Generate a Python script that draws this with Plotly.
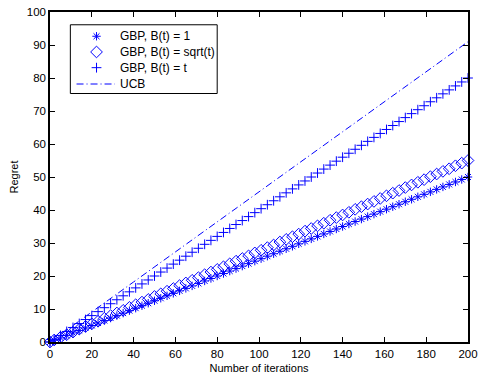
import plotly.graph_objects as go

# Iterations at which the regret was recorded
iterations = [0, 2, 5, 8, 11, 14, 17, 20, 23, 26, 29, 32, 35, 38, 41, 44, 47, 50,
              53, 56, 59, 62, 65, 68, 71, 74, 77, 80, 83, 86, 89, 92, 95, 98, 101,
              104, 107, 110, 113, 116, 119, 122, 125, 128, 131, 134, 137, 140, 143,
              146, 149, 152, 155, 158, 161, 164, 167, 170, 173, 176, 179, 182, 185,
              188, 191, 194, 197, 200]

regret_b1 = [0, 0.5, 1.25, 2.0, 2.75, 3.5, 4.25, 5.0, 5.75, 6.5, 7.25, 8.0, 8.75,
             9.5, 10.25, 11.0, 11.75, 12.5, 13.25, 14.0, 14.75, 15.5, 16.25, 17.0,
             17.75, 18.5, 19.25, 20.0, 20.75, 21.5, 22.25, 23.0, 23.75, 24.5, 25.25,
             26.0, 26.75, 27.5, 28.25, 29.0, 29.75, 30.5, 31.25, 32.0, 32.75, 33.5,
             34.25, 35.0, 35.75, 36.5, 37.25, 38.0, 38.75, 39.5, 40.25, 41.0, 41.75,
             42.5, 43.25, 44.0, 44.75, 45.5, 46.25, 47.0, 47.75, 48.5, 49.25, 50.0]

regret_bsqrt = [0, 0.6, 1.4, 2.2, 3.0, 3.9, 4.7, 5.5, 6.3, 7.2, 8.0, 8.8, 9.6, 10.5,
                11.3, 12.1, 12.9, 13.8, 14.6, 15.4, 16.2, 17.1, 17.9, 18.7, 19.5,
                20.4, 21.2, 22.0, 22.8, 23.7, 24.5, 25.3, 26.1, 27.0, 27.8, 28.6,
                29.4, 30.3, 31.1, 31.9, 32.7, 33.6, 34.4, 35.2, 36.0, 36.9, 37.7,
                38.5, 39.3, 40.2, 41.0, 41.8, 42.6, 43.5, 44.3, 45.1, 45.9, 46.8,
                47.6, 48.4, 49.2, 50.1, 50.9, 51.7, 52.5, 53.4, 54.2, 55.0]

regret_bt = [0, 0.8, 2.0, 3.2, 4.4, 5.6, 6.8, 8.0, 9.2, 10.4, 11.6, 12.8, 14.0, 15.2,
             16.4, 17.6, 18.8, 20.0, 21.2, 22.4, 23.6, 24.8, 26.0, 27.2, 28.4, 29.6,
             30.8, 32.0, 33.2, 34.4, 35.6, 36.8, 38.0, 39.2, 40.4, 41.6, 42.8, 44.0,
             45.2, 46.4, 47.6, 48.8, 50.0, 51.2, 52.4, 53.6, 54.8, 56.0, 57.2, 58.4,
             59.6, 60.8, 62.0, 63.2, 64.4, 65.6, 66.8, 68.0, 69.2, 70.4, 71.6, 72.8,
             74.0, 75.2, 76.4, 77.6, 78.8, 80.0]

ucb_iterations = [0, 20, 40, 60, 80, 100, 120, 140, 160, 180, 200]
regret_ucb = [0, 9.0, 18.2, 27.3, 36.4, 45.5, 54.6, 63.7, 72.8, 81.9, 91.0]

series_names = ["GBP, B(t) = 1", "GBP, B(t) = sqrt(t)", "GBP, B(t) = t", "UCB"]

BLUE = "#0000ff"
FONT = "Liberation Sans, Arial, Helvetica, sans-serif"
UCB_DASH = "7px,3px,1px,3px"

marker_styles = [
    dict(symbol="asterisk-open", size=7, color=BLUE, line=dict(color=BLUE, width=1)),
    dict(symbol="diamond-open", size=9, color=BLUE, line=dict(color=BLUE, width=1)),
    dict(symbol="cross-thin-open", size=7, color=BLUE, line=dict(color=BLUE, width=1)),
]

fig = go.Figure()
for yvals, name, mstyle in zip([regret_b1, regret_bsqrt, regret_bt],
                               series_names[:3], marker_styles):
    fig.add_trace(go.Scatter(
        x=iterations, y=yvals, mode="markers", name=name,
        cliponaxis=False, showlegend=False, marker=mstyle,
    ))
fig.add_trace(go.Scatter(
    x=ucb_iterations, y=regret_ucb, mode="lines", name=series_names[3],
    showlegend=False, line=dict(color=BLUE, width=1, dash=UCB_DASH),
))

# Compact boxed legend drawn on an overlay axis spanning the plot area (0..1)
row_y = [0.9265, 0.8789, 0.8313, 0.7818]
sym_x = 0.1113
text_x = 0.163
for ry, mstyle in zip(row_y[:3], marker_styles):
    fig.add_trace(go.Scatter(
        x=[sym_x], y=[ry], xaxis="x2", yaxis="y2", mode="markers",
        marker=mstyle, showlegend=False, hoverinfo="skip", cliponaxis=False,
    ))
fig.add_trace(go.Scatter(
    x=[0.0635, 0.1553], y=[row_y[3], row_y[3]], xaxis="x2", yaxis="y2",
    mode="lines", line=dict(color=BLUE, width=1, dash=UCB_DASH),
    showlegend=False, hoverinfo="skip",
))
for ry, name in zip(row_y, series_names):
    fig.add_annotation(x=text_x, y=ry, xref="paper", yref="paper", text=name,
                       showarrow=False, xanchor="left", yanchor="middle",
                       font=dict(family=FONT, size=12, color="black"))
fig.add_shape(type="rect", xref="paper", yref="paper",
              x0=0.0487, x1=0.4, y0=0.753, y1=0.9613,
              line=dict(color="black", width=1), fillcolor="white", layer="below")

axis_common = dict(
    showline=True, linecolor="black", linewidth=1.5, mirror="ticks",
    ticks="inside", ticklen=5, tickcolor="black", tickwidth=1,
    showgrid=False, zeroline=False, ticklabeloverflow="allow",
    tickfont=dict(family=FONT, size=11.5, color="black"),
)

fig.update_layout(
    width=484, height=379,
    margin=dict(l=50, r=9, t=6, b=37),
    paper_bgcolor="white", plot_bgcolor="white",
    font=dict(family=FONT, size=11, color="black"),
    xaxis=dict(range=[0, 200], dtick=20,
               title=dict(text="Number of iterations", standoff=6,
                          font=dict(family=FONT, size=11)),
               **axis_common),
    yaxis=dict(range=[0, 100], dtick=10,
               title=dict(text="Regret", standoff=6,
                          font=dict(family=FONT, size=11)),
               **axis_common),
    xaxis2=dict(overlaying="x", range=[0, 1], visible=False, fixedrange=True),
    yaxis2=dict(overlaying="y", range=[0, 1], visible=False, fixedrange=True),
    showlegend=False,
)

fig.write_html("out.html")
